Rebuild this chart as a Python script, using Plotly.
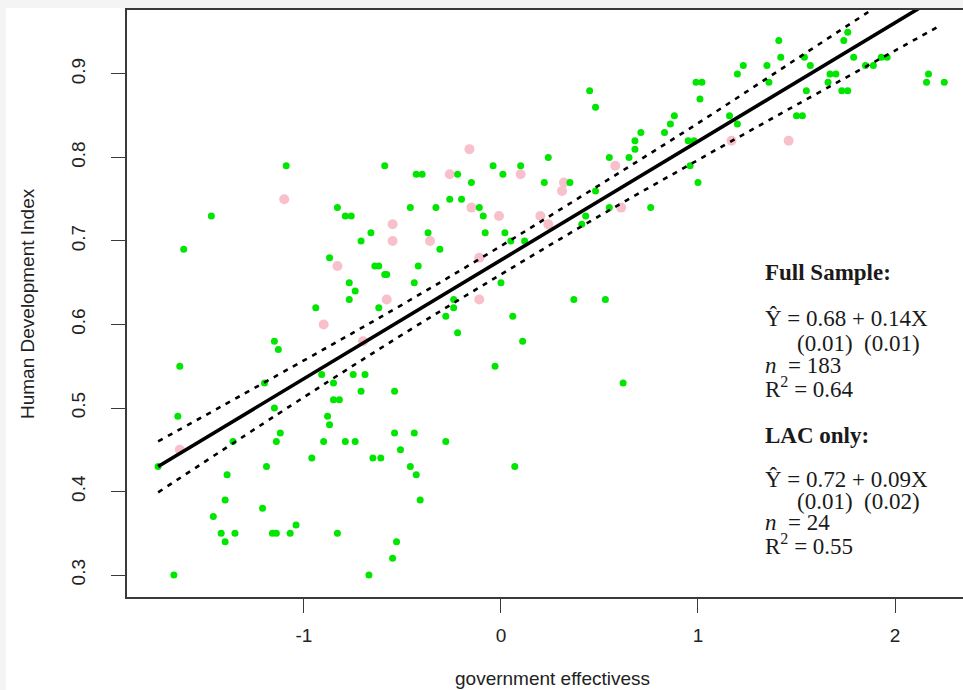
import plotly.graph_objects as go

# ---------------- data ----------------
green_x = [-1.09, -0.59, -0.43, -1.47, -0.83, -0.79, -0.76, -0.46, -0.66, -0.71,
           -1.61, -0.87, -0.64, -0.62, -0.59, -0.58, -0.42, -0.77, -0.44, -0.74,
           -0.77, -0.94, -0.62, -1.15, -1.13, -1.63, -1.20, -0.91, -0.75, -0.69,
           -0.85, -0.71, -0.54, -0.85, -0.82, -1.64, -1.15, -0.88, -0.87, -1.12,
           -1.36, -1.14, -0.90, -0.79, -0.74, -0.54, -0.44, -0.51, -1.74, -0.96,
           -0.65, -0.61, -1.19, -0.46, -0.43, -1.39, -1.40, -0.41, -1.21, -1.46,
           -1.04, -1.42, -1.35, -1.16, -1.14, -1.07, -0.83, -1.40, -0.53, -0.55,
           -1.66, -0.67, 0.00, -0.24, -0.24, -0.28, 0.37, 0.53, 0.06, -0.22,
           0.11, -0.03, 0.62, -0.28, 0.07, 0.99, 1.01, 0.45, 0.48, 0.88,
           0.86, 0.83, 0.71, 0.68, 0.68, 0.65, 0.55, 0.95, 0.98, 0.96,
           1.00, 0.24, -0.04, 0.10, -0.22, -0.40, 0.01, -0.15, 0.22, 0.35,
           0.48, -0.26, -0.20, -0.11, -0.33, -0.09, 0.43, 0.41, 0.55, 0.76,
           -0.37, -0.08, 0.02, 0.05, 0.12, -0.31, 1.41, 1.76, 1.74, 1.42,
           1.54, 1.79, 1.93, 1.96, 1.23, 1.35, 1.57, 1.85, 1.89, 1.20,
           1.67, 1.70, 2.17, 1.02, 1.36, 1.66, 2.16, 2.25, 1.55, 1.73,
           1.76, 1.16, 1.20, 1.50, 1.53]
green_y = [0.79, 0.79, 0.78, 0.73, 0.74, 0.73, 0.73, 0.74, 0.71, 0.70,
           0.69, 0.68, 0.67, 0.67, 0.66, 0.66, 0.67, 0.65, 0.65, 0.64,
           0.63, 0.62, 0.62, 0.58, 0.57, 0.55, 0.53, 0.54, 0.54, 0.54,
           0.53, 0.52, 0.52, 0.51, 0.51, 0.49, 0.50, 0.49, 0.48, 0.47,
           0.46, 0.46, 0.46, 0.46, 0.46, 0.47, 0.47, 0.45, 0.43, 0.44,
           0.44, 0.44, 0.43, 0.43, 0.42, 0.42, 0.39, 0.39, 0.38, 0.37,
           0.36, 0.35, 0.35, 0.35, 0.35, 0.35, 0.35, 0.34, 0.34, 0.32,
           0.30, 0.30, 0.65, 0.63, 0.62, 0.61, 0.63, 0.63, 0.61, 0.59,
           0.58, 0.55, 0.53, 0.46, 0.43, 0.89, 0.87, 0.88, 0.86, 0.85,
           0.84, 0.83, 0.83, 0.82, 0.81, 0.80, 0.80, 0.82, 0.82, 0.79,
           0.77, 0.80, 0.79, 0.79, 0.78, 0.78, 0.78, 0.77, 0.77, 0.77,
           0.76, 0.75, 0.75, 0.74, 0.74, 0.73, 0.73, 0.72, 0.74, 0.74,
           0.71, 0.71, 0.71, 0.70, 0.70, 0.69, 0.94, 0.95, 0.94, 0.92,
           0.92, 0.92, 0.92, 0.92, 0.91, 0.91, 0.91, 0.91, 0.91, 0.90,
           0.90, 0.90, 0.90, 0.89, 0.89, 0.89, 0.89, 0.89, 0.88, 0.88,
           0.88, 0.85, 0.84, 0.85, 0.85]

pink_x = [-1.10, -0.55, -0.55, -0.83, -0.58, -0.90, -0.70, -1.63, -0.11, 0.58,
          -0.16, -0.26, 0.10, 0.32, 0.31, -0.15, -0.01, 0.20, 0.24, 0.61,
          -0.36, -0.11, 1.17, 1.46]
pink_y = [0.75, 0.72, 0.70, 0.67, 0.63, 0.60, 0.58, 0.45, 0.63, 0.79,
          0.81, 0.78, 0.78, 0.77, 0.76, 0.74, 0.73, 0.73, 0.72, 0.74,
          0.70, 0.68, 0.82, 0.82]

fit_x = [-1.74, 2.23]
fit_y = [0.430, 0.994]

band_x = [-1.74, -1.0, -0.5, 0.0, 0.5, 1.0, 1.5, 2.0, 2.23]
band_upper = [0.460, 0.557, 0.624, 0.694, 0.767, 0.841, 0.918, 0.995, 1.030]
band_lower = [0.399, 0.513, 0.588, 0.660, 0.730, 0.797, 0.863, 0.928, 0.958]

x_ticks = [-1, 0, 1, 2]
x_tick_labels = ["-1", "0", "1", "2"]
y_ticks = [0.3, 0.4, 0.5, 0.6, 0.7, 0.8, 0.9]
y_tick_labels = ["0.3", "0.4", "0.5", "0.6", "0.7", "0.8", "0.9"]

x_title = "government effectivess"
y_title = "Human Development Index"

stats_lines = [
    ("<b>Full Sample:</b>", 0.662, 1.330),
    ("Ŷ = 0.68 + 0.14X", 0.607, 1.330),
    ("(0.01)\u00a0\u00a0(0.01)", 0.577, 1.492),
    ("<i>n</i>\u00a0\u00a0= 183", 0.551, 1.330),
    ("R<sup>2</sup> = 0.64", 0.525, 1.330),
    ("<b>LAC only:</b>", 0.467, 1.330),
    ("Ŷ = 0.72 + 0.09X", 0.414, 1.330),
    ("(0.01)\u00a0\u00a0(0.02)", 0.388, 1.492),
    ("<i>n</i>\u00a0\u00a0= 24", 0.363, 1.330),
    ("R<sup>2</sup> = 0.55", 0.337, 1.330),
]

# ---------------- figure ----------------
W, H = 963, 690
L, R, T, B = 127, 0, 10, 93
AX = "#3a3a3a"
SANS = "Liberation Sans, Arial, sans-serif"
SERIF = "Liberation Serif, Times New Roman, serif"

fig = go.Figure()

fig.add_trace(go.Scatter(x=pink_x, y=pink_y, mode="markers",
                         marker=dict(color="#f7c0ca", size=10, line=dict(width=0)),
                         hoverinfo="skip", showlegend=False))
fig.add_trace(go.Scatter(x=green_x, y=green_y, mode="markers",
                         marker=dict(color="#00e600", size=7, line=dict(width=0)),
                         hoverinfo="skip", showlegend=False))
for yy in (band_upper, band_lower):
    fig.add_trace(go.Scatter(x=band_x, y=yy, mode="lines",
                             line=dict(color="black", width=2.6, dash="5px,6px", shape="spline"),
                             hoverinfo="skip", showlegend=False))
fig.add_trace(go.Scatter(x=fit_x, y=fit_y, mode="lines",
                         line=dict(color="black", width=3.6),
                         hoverinfo="skip", showlegend=False))

pw = W - L - R
ph = H - T - B

fig.update_layout(
    width=W, height=H, autosize=False,
    margin=dict(l=L, r=R, t=T, b=B, pad=0),
    paper_bgcolor="#f4f4f4", plot_bgcolor="white",
    showlegend=False,
    xaxis=dict(range=[-1.898, 2.345], tickvals=x_ticks, ticktext=x_tick_labels,
               showgrid=False, zeroline=False, showline=True, mirror=True,
               linecolor=AX, linewidth=1.5, ticks="outside", ticklen=14,
               tickwidth=1.3, tickcolor=AX, ticklabelstandoff=6,
               tickfont=dict(family=SANS, size=19, color="#222")),
    yaxis=dict(range=[0.2737, 0.9766], tickvals=y_ticks, ticktext=y_tick_labels,
               showgrid=False, zeroline=False, showline=True, mirror=False,
               linecolor=AX, linewidth=1.5, ticks="outside", ticklen=14,
               tickwidth=1.3, tickcolor=AX, tickangle=-90, ticklabelstandoff=19,
               tickfont=dict(family=SANS, size=19, color="#222")),
    shapes=[dict(type="rect", xref="paper", yref="paper",
                 x0=(6 - L) / pw, x1=1.05, y0=-0.2, y1=(H - B - 8) / ph,
                 fillcolor="white", line=dict(width=0), layer="below")],
)

annotations = []
for txt, yv, xv in stats_lines:
    annotations.append(dict(x=xv, y=yv, xref="x", yref="y", text=txt, showarrow=False,
                            xanchor="left", yanchor="middle",
                            font=dict(family=SERIF, size=23, color="#1a1a1a")))
annotations.append(dict(x=(552 - L) / pw, y=(H - B - 678) / ph, xref="paper", yref="paper",
                        text=x_title, showarrow=False, xanchor="center", yanchor="middle",
                        font=dict(family=SANS, size=19, color="#222")))
annotations.append(dict(x=(28 - L) / pw, y=(H - B - 304) / ph, xref="paper", yref="paper",
                        text=y_title, showarrow=False, textangle=-90,
                        xanchor="center", yanchor="middle",
                        font=dict(family=SANS, size=19, color="#222")))
fig.update_layout(annotations=annotations)

fig.write_html("out.html", config={"displayModeBar": False})
